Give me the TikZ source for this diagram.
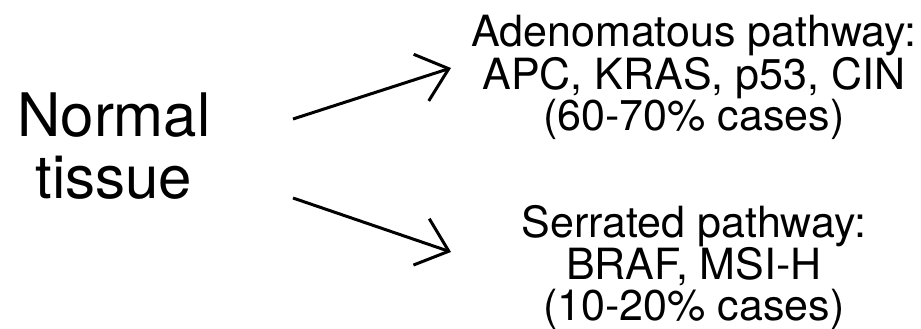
\documentclass[tikz,border=0pt]{standalone}
\usepackage{fontspec}
\setmainfont{TeX Gyre Heros}
\usetikzlibrary{arrows.meta}
\begin{document}
\begin{tikzpicture}[x=1pt,y=-1pt,
  bigtext/.style={inner sep=0pt,align=center,anchor=north,
    font=\fontsize{60}{62}\selectfont},
  pathtext/.style={inner sep=0pt,align=center,anchor=north,
    font=\fontsize{43}{41}\selectfont},
  flow/.style={line width=3pt,
    -{Straight Barb[length=29pt,width=49pt,line width=3pt]}}]
  \useasboundingbox (0,0) rectangle (921,329);
  % source and the two pathways
  \node[bigtext] (normal) at (114,93) {Normal\\tissue};
  \node[pathtext] (adeno) at (694,15) {Adenomatous pathway:\\APC, KRAS, p53, CIN\\(60-70\% cases)};
  \node[pathtext] (serr) at (694,205) {Serrated pathway:\\BRAF, MSI-H\\(10-20\% cases)};
  % arrow ends, kept clear of the text
  \coordinate (a1) at (293,119);
  \coordinate (a2) at (451,68);
  \coordinate (b1) at (293,198);
  \coordinate (b2) at (451,252);
  \draw[flow] (a1) -- (a2);
  \draw[flow] (b1) -- (b2);
\end{tikzpicture}
\end{document}
